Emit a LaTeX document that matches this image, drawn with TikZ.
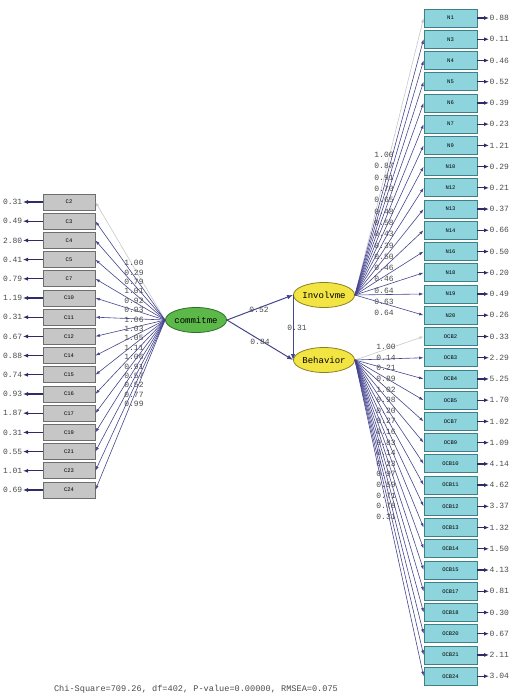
\documentclass[tikz,border=0pt]{standalone}
\usepackage{fontspec}
\setmonofont{Liberation Mono}
\usetikzlibrary{arrows.meta,shapes.geometric}
\definecolor{lboxf}{HTML}{C6C6C6}
\definecolor{lboxd}{HTML}{6E6E6E}
\definecolor{rboxf}{HTML}{8ED4DC}
\definecolor{rboxd}{HTML}{3F7F88}
\definecolor{greenf}{HTML}{5CB848}
\definecolor{greend}{HTML}{2F6E2A}
\definecolor{yellf}{HTML}{F2E443}
\definecolor{yelld}{HTML}{8C7E22}
\definecolor{linec}{HTML}{44448F}
\definecolor{fixc}{HTML}{C8C8C8}
\definecolor{errc}{HTML}{2C2C6A}
\definecolor{valc}{HTML}{4A4A4A}
\begin{document}
\begin{tikzpicture}[x=1pt,y=-1pt,
  lboxst/.style={draw=lboxd, fill=lboxf, minimum width=52pt, minimum height=16pt, inner sep=0pt, line width=0.8pt, font=\ttfamily\fontsize{5.5}{6}\selectfont},
  rboxst/.style={draw=rboxd, fill=rboxf, minimum width=53pt, minimum height=18pt, inner sep=0pt, line width=0.8pt, font=\ttfamily\fontsize{5.5}{6}\selectfont},
  latent/.style={ellipse, line width=0.8pt, minimum width=53pt, minimum height=25pt, inner sep=0pt, font=\ttfamily\fontsize{9}{10}\selectfont},
  val/.style={font=\ttfamily\fontsize{8}{9}\selectfont, text=valc, inner sep=0.5pt},
  load/.style={draw=linec, line width=0.6pt, -{Latex[length=4.5pt,width=3pt]}},
  fixed/.style={draw=fixc, line width=0.6pt, -{Latex[length=4.5pt,width=3pt]}},
  errarr/.style={draw=errc, line width=1.3pt, -{Latex[length=5pt,width=4pt]}},
  path/.style={draw=linec, line width=1pt, -{Latex[length=6pt,width=4.5pt]}}
]
\useasboundingbox (0,0) rectangle (526,696);

% latent variables
\node[latent, draw=greend, fill=greenf] (com) at (196,320) {commitme};
\node[latent, draw=yelld, fill=yellf] (inv) at (324,295) {Involvme};
\node[latent, draw=yelld, fill=yellf] (beh) at (324,360) {Behavior};

% structural paths
\draw[path] (com.east) -- (inv.west);
\draw[path] (com.east) -- (beh.west);
\draw[path] (inv.west) -- (beh.west);
\node[val] (p1) at (259,310) {0.52};
\node[val] (p2) at (260,342) {0.84};
\node[val] (p3) at (297,328) {0.31};

% left indicators
\foreach \n/\e/\l/\s [count=\i from 0] in {
  C2/0.31/1.00/fixed, C3/0.49/0.29/load, C4/2.80/0.79/load, C5/0.41/1.01/load,
  C7/0.79/0.92/load, C10/1.19/0.93/load, C11/0.31/1.06/load, C12/0.67/1.03/load,
  C14/0.88/1.05/load, C15/0.74/1.11/load, C16/0.93/1.06/load, C17/1.87/0.91/load,
  C19/0.31/0.57/load, C21/0.55/0.52/load, C23/1.01/0.77/load, C24/0.69/0.99/load} {
  \node[lboxst] (L\i) at (69,{202+\i*19.2}) {\n};
  \node[val, anchor=east] (LE\i) at (23,{202+\i*19.2}) {\e};
  \draw[errarr] (L\i.west) -- (LE\i.east);
  \draw[\s] (com.west) -- (L\i.east);
  \node[val] (LL\i) at (134,{263+\i*9.4}) {\l};
}

% right indicators: Involvme
\foreach \n/\e/\l/\s [count=\i from 0] in {
  N1/0.88/1.00/fixed, N3/0.11/0.87/load, N4/0.46/0.91/load, N5/0.52/0.70/load,
  N6/0.39/0.65/load, N7/0.23/0.48/load, N9/1.21/0.58/load, N10/0.29/0.43/load,
  N12/0.21/0.39/load, N13/0.37/0.50/load, N14/0.66/0.46/load, N16/0.50/0.46/load,
  N18/0.20/0.64/load, N19/0.49/0.63/load, N20/0.26/0.64/load} {
  \node[rboxst] (R\i) at (450.5,{18+\i*21.23}) {\n};
  \node[val, anchor=west] (RE\i) at (489,{18+\i*21.23}) {\e};
  \draw[errarr] (R\i.east) -- (RE\i.west);
  \draw[\s] (inv.east) -- (R\i.west);
  \node[val] (RL\i) at (384,{155+\i*11.3}) {\l};
}

% right indicators: Behavior
\foreach \n/\e/\l/\s [count=\i from 0] in {
  OCB2/0.33/1.00/fixed, OCB3/2.29/0.14/load, OCB4/5.25/0.21/load, OCB5/1.70/0.89/load,
  OCB7/1.02/1.02/load, OCB9/1.09/0.98/load, OCB10/4.14/0.20/load, OCB11/4.62/0.27/load,
  OCB12/3.37/0.16/load, OCB13/1.32/0.83/load, OCB14/1.50/0.14/load, OCB15/4.13/0.23/load,
  OCB17/0.81/0.97/load, OCB18/0.30/0.59/load, OCB20/0.67/0.71/load, OCB21/2.11/0.78/load,
  OCB24/3.04/0.31/load} {
  \node[rboxst] (B\i) at (450.5,{336.5+\i*21.23}) {\n};
  \node[val, anchor=west] (BE\i) at (489,{336.5+\i*21.23}) {\e};
  \draw[errarr] (B\i.east) -- (BE\i.west);
  \draw[\s] (beh.east) -- (B\i.west);
  \node[val] (BL\i) at (386,{347+\i*10.6}) {\l};
}

\node[font=\ttfamily\fontsize{8.6}{10}\selectfont, text=valc] (fit) at (196,689) {Chi-Square=709.26, df=402, P-value=0.00000, RMSEA=0.075};
\end{tikzpicture}
\end{document}
